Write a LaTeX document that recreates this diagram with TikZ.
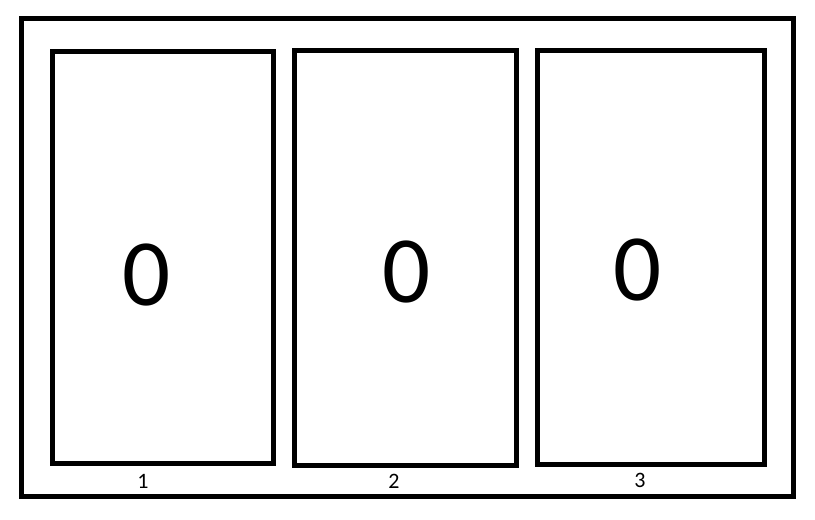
\documentclass[tikz,border=0pt]{standalone}
\usepackage{fontspec}
\setmainfont{Carlito}
\usepackage{tikz}

\begin{document}
\begin{tikzpicture}[x=1pt,y=-1pt,line width=5pt]
\tikzset{bignum/.style={inner sep=0pt,font=\fontsize{95}{95}\selectfont},
  smallnum/.style={inner sep=0pt,font=\fontsize{22}{22}\selectfont}}
\useasboundingbox (0,0) rectangle (815,520);
% frame and the three panels
\draw (21.5,18.5) rectangle (793,496.5);
\draw (52.5,51) rectangle (273.5,463.5);
\draw (294.8,50) rectangle (516.8,465);
\draw (537.5,50) rectangle (764,464);
\node[bignum] (val1) at (146.5,275) {0};
\node[bignum] (val2) at (406.5,271.7) {0};
\node[bignum] (val3) at (638,270.3) {0};
\node[smallnum] (lab1) at (143,481) {1};
\node[smallnum] (lab2) at (394,481) {2};
\node[smallnum] (lab3) at (640,480) {3};
\end{tikzpicture}
\end{document}
